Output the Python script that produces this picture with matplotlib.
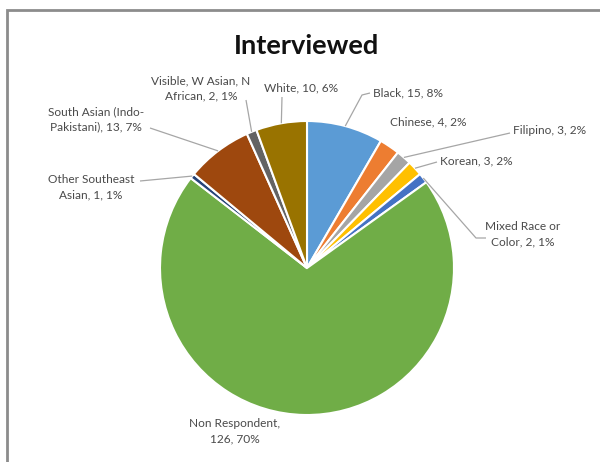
import numpy as np
import matplotlib
matplotlib.use("Agg")
import matplotlib.pyplot as plt
from matplotlib.patches import Rectangle

plt.rcParams['font.family'] = ['Lato', 'DejaVu Sans']

# 데이터
categories = ["Black", "Chinese", "Filipino", "Korean", "Mixed Race or\nColor",
              "Non Respondent", "Other Southeast\nAsian", "South Asian (Indo-\nPakistani)",
              "Visible, W Asian, N\nAfrican", "White"]
counts = [15, 4, 3, 3, 2, 126, 1, 13, 2, 10]
colors = ["#5B9BD5", "#ED7D31", "#A5A5A5", "#FFC000", "#4472C4",
          "#70AD47", "#264478", "#9E480E", "#636363", "#997300"]

W, H = 600, 462

def px(x, y):
    # 이미지 픽셀 좌표 -> 데이터 좌표 (y 뒤집기)
    return x, H - y

# 라벨 위치 (이미지 픽셀), 정렬, 지시선 끝점
label_pos = {
    "Black": ((373, 93), "left", [(362, 95), (370, 93)]),
    "Chinese": ((390, 122), "left", None),
    "Filipino": ((513, 131), "left", [(510, 133)]),
    "Korean": ((440, 161), "left", [(437, 162)]),
    "Mixed Race or\nColor": ((523, 234), "center", [(476, 238), (486, 238)]),
    "Non Respondent": ((235, 431), "center", None),
    "Other Southeast\nAsian": ((91, 187), "center", [(140, 181)]),
    "South Asian (Indo-\nPakistani)": ((96, 119), "center", [(150, 128)]),
    "Visible, W Asian, N\nAfrican": ((201, 88), "center", [(246, 100)]),
    "White": ((301, 88), "center", [(282, 97)]),
}

fig = plt.figure(figsize=(6, 4.62), dpi=100)
ax = fig.add_axes([0, 0, 1, 1])

cx, cy = px(307, 268)
r = 147
wedges, _ = ax.pie(counts, colors=colors, startangle=90, counterclock=False,
                   center=(cx, cy), radius=r,
                   wedgeprops=dict(edgecolor="white", linewidth=1.5))

ax.set_xlim(0, W)
ax.set_ylim(0, H)
ax.set_aspect("equal")
ax.axis("off")

total = sum(counts)
for w, name, v in zip(wedges, categories, counts):
    pct = round(v / total * 100)
    sep = ",\n" if name == "Non Respondent" else ", "
    text = f"{name}{sep}{v}, {pct}%"
    (tx, ty), ha, leader = label_pos[name]
    ax.text(*px(tx, ty), text, ha=ha, va="center", fontsize=8.6,
            color="#4a4a4a", linespacing=1.45)
    if leader:
        ang = np.deg2rad((w.theta1 + w.theta2) / 2)
        sx, sy = cx + r * np.cos(ang), cy + r * np.sin(ang)
        pts = [(sx, sy)] + [px(x, y) for x, y in leader]
        xs, ys = zip(*pts)
        ax.plot(xs, ys, color="#A6A6A6", lw=0.9, solid_capstyle="butt")

ax.text(*px(307, 46), "Interviewed", ha="center", va="center",
        fontsize=19.5, fontweight="bold", color="#111111")

# 차트 테두리
ax.add_patch(Rectangle(px(7, 500), 700, 490, fill=False,
                       edgecolor="#8C8C8C", lw=2))

fig.savefig("out.png", dpi=100, facecolor="white")
